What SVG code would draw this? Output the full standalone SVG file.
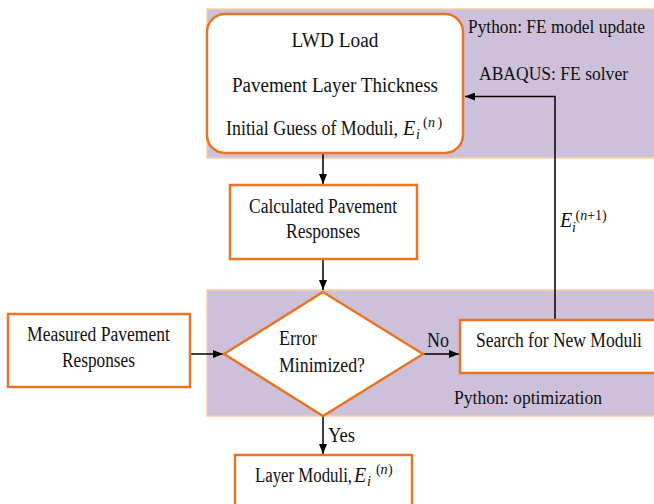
<svg xmlns="http://www.w3.org/2000/svg" width="654" height="504" viewBox="0 0 654 504">
<style>
  .band { fill: #CCC0DA; stroke: #F9CDA6; stroke-width: 1.5; }
  .node { fill: #FFFFFF; stroke: #EB7424; stroke-width: 2.5; }
  .t { font-family: "Liberation Serif", "Times New Roman", serif; font-size: 20px; fill: #111; }
  .lbl { font-family: "Liberation Serif", "Times New Roman", serif; font-size: 18px; fill: #111; }
  .it { font-style: italic; }
  .sup { font-size: 14px; }
  .conn { fill: none; stroke: #000; stroke-width: 1.5; }
</style>
<defs>
  <marker id="ah" markerUnits="userSpaceOnUse" markerWidth="10" markerHeight="8" refX="10" refY="4" orient="auto">
    <path d="M0,0 L10,4 L0,8 Z" fill="#000"/>
  </marker>
</defs>
<rect width="654" height="504" fill="#FFFFFF"/>

<g id="band-top">
  <rect class="band" x="207" y="9" width="452" height="149"/>
  <text class="lbl" x="468" y="33" textLength="177" lengthAdjust="spacingAndGlyphs">Python: FE model update</text>
  <text class="lbl" x="479" y="80" textLength="149" lengthAdjust="spacingAndGlyphs">ABAQUS: FE solver</text>
</g>
<g id="band-bottom">
  <rect class="band" x="207" y="290" width="452" height="126"/>
  <text class="lbl" x="454" y="404" textLength="148" lengthAdjust="spacingAndGlyphs">Python: optimization</text>
</g>

<g id="connectors">
  <line class="conn" x1="323" y1="153" x2="323" y2="184" marker-end="url(#ah)"/>
  <line class="conn" x1="323" y1="259" x2="323" y2="290" marker-end="url(#ah)"/>
  <line class="conn" x1="190" y1="354" x2="223" y2="354" marker-end="url(#ah)"/>
  <line class="conn" x1="423" y1="354" x2="459" y2="354" marker-end="url(#ah)"/>
  <line class="conn" x1="323" y1="416" x2="323" y2="454" marker-end="url(#ah)"/>
  <polyline class="conn" points="555,320 555,96.5 465,96.5" marker-end="url(#ah)"/>
  <text class="t" x="427" y="347" textLength="22" lengthAdjust="spacingAndGlyphs">No</text>
  <text class="t" x="328" y="442" textLength="27" lengthAdjust="spacingAndGlyphs">Yes</text>
  <text class="t"><tspan class="it" x="560" y="227">E</tspan><tspan class="it sup" x="572" y="231.5">i</tspan><tspan class="sup" x="575.5" y="220">(</tspan><tspan class="sup it">n</tspan><tspan class="sup">+1)</tspan></text>
</g>

<g id="node-input">
  <rect class="node" x="207" y="14" width="256" height="139" rx="18" ry="18"/>
  <text class="t" x="335" y="47" text-anchor="middle" textLength="87" lengthAdjust="spacingAndGlyphs">LWD Load</text>
  <text class="t" x="335" y="92" text-anchor="middle" textLength="206" lengthAdjust="spacingAndGlyphs">Pavement Layer Thickness</text>
  <text class="t" x="226" y="135" textLength="172" lengthAdjust="spacingAndGlyphs">Initial Guess of Moduli,</text>
  <text class="t"><tspan class="it" x="403" y="135">E</tspan><tspan class="it sup" x="416" y="138.5">i</tspan><tspan class="sup" x="423" y="126.5">(</tspan><tspan class="sup it" x="428">n</tspan><tspan class="sup" x="437.5">)</tspan></text>
</g>

<g id="node-calc">
  <rect class="node" x="230" y="185" width="187" height="74"/>
  <text class="t" x="323" y="213" text-anchor="middle" textLength="148" lengthAdjust="spacingAndGlyphs">Calculated Pavement</text>
  <text class="t" x="323" y="238" text-anchor="middle" textLength="74" lengthAdjust="spacingAndGlyphs">Responses</text>
</g>

<g id="node-measured">
  <rect class="node" x="8" y="314" width="182" height="73"/>
  <text class="t" x="98.5" y="341" text-anchor="middle" textLength="143" lengthAdjust="spacingAndGlyphs">Measured Pavement</text>
  <text class="t" x="98.5" y="367" text-anchor="middle" textLength="73" lengthAdjust="spacingAndGlyphs">Responses</text>
</g>

<g id="node-decision">
  <polygon class="node" points="323,292 423,354 323,416 224,354"/>
  <text class="t" x="279" y="345" textLength="38" lengthAdjust="spacingAndGlyphs">Error</text>
  <text class="t" x="279" y="372" textLength="86" lengthAdjust="spacingAndGlyphs">Minimized?</text>
</g>

<g id="node-search">
  <rect class="node" x="460" y="320" width="196" height="53"/>
  <text class="t" x="476" y="347" textLength="166" lengthAdjust="spacingAndGlyphs">Search for New Moduli</text>
</g>

<g id="node-output">
  <rect class="node" x="235" y="455" width="177" height="60"/>
  <text class="t" x="255" y="482" textLength="97" lengthAdjust="spacingAndGlyphs">Layer Moduli,</text>
  <text class="t"><tspan class="it" x="354" y="482">E</tspan><tspan class="it sup" x="367" y="485.5">i</tspan><tspan class="sup" x="376" y="473.5">(</tspan><tspan class="sup it" x="380.5">n</tspan><tspan class="sup" x="388">)</tspan></text>
</g>
</svg>
